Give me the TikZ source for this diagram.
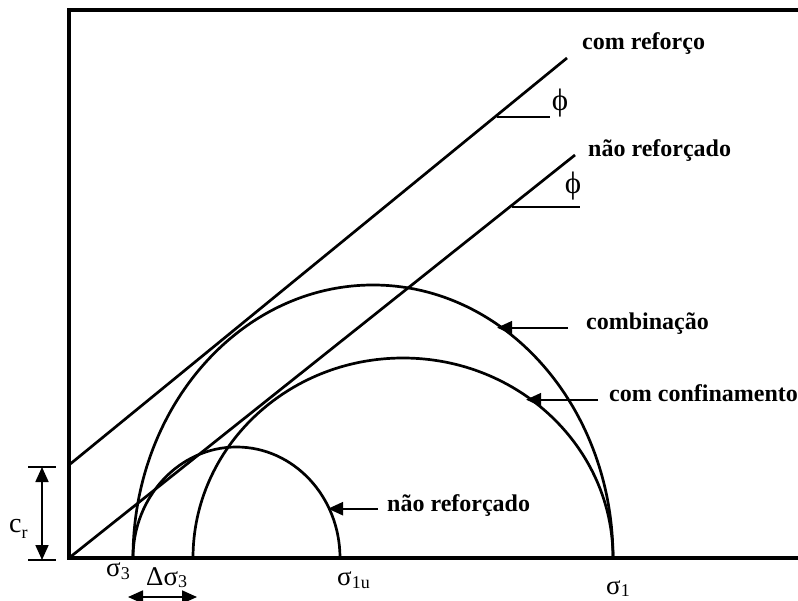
\documentclass[tikz,border=0pt]{standalone}
\usepackage{fontspec}
\setmainfont{Liberation Serif}
\usetikzlibrary{arrows.meta,calc}
\newcommand{\lowsub}[2][3.5pt]{\raisebox{-#1}{\fontsize{18}{18}\selectfont #2}}
\begin{document}
\begin{tikzpicture}[x=1pt,y=-1pt,
  axis/.style={line width=3.2pt},
  curve/.style={line width=2.7pt},
  lbl/.style={font=\fontsize{24}{28}\selectfont\bfseries, inner sep=0pt, anchor=base west},
  sym/.style={font=\fontsize{27}{30}\selectfont, inner sep=0pt, anchor=base west},
  arr/.style={line width=2.4pt, -{Triangle[length=15pt,width=13pt]}},
  dimarr/.style={line width=1.8pt, {Triangle[length=15pt,width=13pt]}-{Triangle[length=15pt,width=13pt]}},
]
\useasboundingbox (0,0) rectangle (798,601);

% frame / axes
\coordinate (O) at (69,558);
\coordinate (TL) at (69,10);
\coordinate (TR) at (798,10);
\coordinate (BR) at (798,558);
\draw[axis] (TR) -- (TL) -- (O) -- (BR);

% envelope lines
\coordinate (A1) at (69,465);
\coordinate (A2) at (567,58);
\coordinate (B2) at (575,155);
\draw[curve] (A1) -- (A2);
\draw[curve] (O) -- (B2);

% angle marks
\coordinate (P1) at (497,117);
\coordinate (P1e) at (550,117);
\draw[curve] (P1) -- (P1e);
\node[sym, anchor=center, font=\fontsize{31}{34}\selectfont] (phi1) at (560,103) {ϕ};
\coordinate (P2) at (512,207);
\coordinate (P2e) at (580,207);
\draw[curve] (P2) -- (P2e);
\node[sym, anchor=center, font=\fontsize{31}{34}\selectfont] (phi2) at (573,186) {ϕ};

% Mohr circles
\coordinate (s3) at (133,558);
\coordinate (s3d) at (193,558);
\coordinate (s1u) at (340,558);
\coordinate (s1) at (613,558);
\draw[curve] (s3) arc[start angle=180,end angle=0,x radius=103.5pt,y radius=111pt];
\draw[curve] (s3) arc[start angle=180,end angle=0,x radius=240pt,y radius=273pt];
\draw[curve] (s3d) arc[start angle=180,end angle=0,x radius=210pt,y radius=200pt];

% labels
\node[lbl] (Lr) at (582,50) {com reforço};
\node[lbl] (Ln) at (588,157) {não reforçado};
\node[lbl] (Lc) at (586,330) {combinação};
\node[lbl] (Lcc) at (609,402) {com confinamento};
\node[lbl] (Ls) at (387,511) {não reforçado};

\coordinate (tc) at (497,324);
\coordinate (tcc) at (526,396);
\coordinate (ts) at (328,506);
\draw[arr, shorten <=18pt] (Lc.mid west) -- (Lc.mid west -| tc);
\draw[arr, shorten <=11pt] (Lcc.mid west) -- (Lcc.mid west -| tcc);
\draw[arr, shorten <=9pt] (Ls.mid west) -- (Ls.mid west -| ts);

% axis labels
\node[sym] (ls3) at (106,576) {σ\lowsub{3}};
\node[sym] (lds3) at (146,585) {Δσ\lowsub[2.5pt]{3}};
\node[sym] (ls1u) at (337,585) {σ\lowsub{1u}};
\node[sym] (ls1) at (606,594) {σ\lowsub[2pt]{1}};

% Delta sigma3 arrow
\coordinate (d1) at (128,597);
\coordinate (d2) at (197,597);
\draw[dimarr] (d1) -- (d2);

% c_r dimension
\coordinate (ct1) at (28,467);
\coordinate (ct2) at (56,467);
\coordinate (cb1) at (28,560);
\coordinate (cb2) at (56,560);
\draw[line width=1.8pt] (ct1) -- (ct2);
\draw[line width=1.8pt] (cb1) -- (cb2);
\draw[dimarr] ($(ct1)!0.5!(ct2)$) coordinate (cm1) -- ($(cb1)!0.5!(cb2)$) coordinate (cm2);
\node[sym, font=\fontsize{28}{30}\selectfont] (lcr) at (9,532) {c\lowsub[6pt]{r}};
\end{tikzpicture}
\end{document}
